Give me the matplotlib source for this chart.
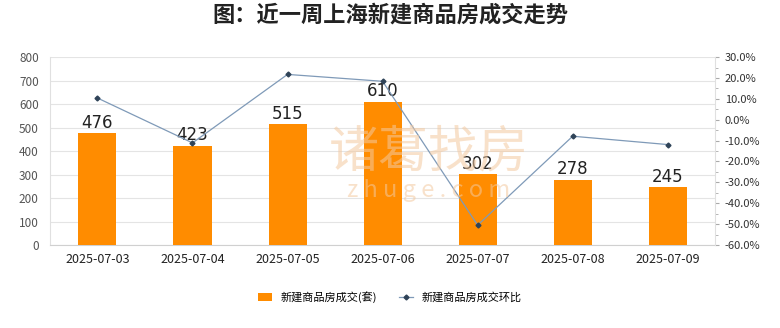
import numpy as np
import matplotlib.pyplot as plt
from matplotlib.ticker import FuncFormatter, MultipleLocator

plt.rcParams['font.family'] = ['Noto Sans CJK SC', 'DejaVu Sans']

# daily deals and day-over-day change
dates = ['2025-07-03', '2025-07-04', '2025-07-05', '2025-07-06',
         '2025-07-07', '2025-07-08', '2025-07-09']
deals = [476, 423, 515, 610, 302, 278, 245]
change_pct = [10.4, -11.1, 21.7, 18.4, -50.5, -7.9, -11.9]

fig = plt.figure(figsize=(7.8, 3.28), dpi=100)
ax = fig.add_axes([0.064, 0.253, 0.853, 0.573])
ax2 = ax.twinx()

x = np.arange(len(dates))

# faint watermark behind the bars
fig.text(0.55, 0.535, '诸葛找房', fontsize=36, color='#f3c9a0', alpha=0.55,
         ha='center', va='center', zorder=0)
fig.text(0.55, 0.42, 'z h u g e . c o m', fontsize=17, color='#f3c9a0', alpha=0.55,
         ha='center', va='center', zorder=0)
ax.patch.set_alpha(0)

bars = ax.bar(x, deals, width=0.4, color='#ff8c00', zorder=3)
for xi, v in zip(x, deals):
    ax.text(xi, v + 6, str(v), ha='center', va='bottom', fontsize=12, color='#222222',
            family='DejaVu Sans', zorder=4)

ax.set_xlim(-0.5, len(dates) - 0.5)
ax.set_ylim(0, 800)
ax.yaxis.set_major_locator(MultipleLocator(100))
ax.grid(axis='y', color='#e4e4e4', linewidth=0.8, zorder=0)
ax.set_axisbelow(True)
ax.set_xticks(x)
ax.set_xticklabels(dates, fontsize=9, color='#222222')
ax.tick_params(axis='y', labelsize=8.5, labelcolor='#555555', length=0, pad=8)
ax.tick_params(axis='x', length=0, pad=6)
ax.spines['top'].set_visible(False)
ax.spines['left'].set_color('#e0e0e0')
ax.spines['bottom'].set_color('#d0d0d0')
ax.spines['right'].set_visible(False)

line, = ax2.plot(x, change_pct, color='#7f9ab8', linewidth=0.9, marker='D', markersize=2.5,
                 markerfacecolor='#2f4358', markeredgecolor='#2f4358', zorder=5)
ax2.set_ylim(-60, 30)
ax2.yaxis.set_major_locator(MultipleLocator(10))
ax2.yaxis.set_minor_locator(MultipleLocator(5))
ax2.yaxis.set_major_formatter(FuncFormatter(lambda v, p: f'{v:.1f}%'))
ax2.tick_params(axis='y', which='major', labelsize=8, labelcolor='#333333',
                length=3, color='#aaaaaa', pad=4)
ax2.tick_params(axis='y', which='minor', length=2, color='#aaaaaa')
ax2.spines['top'].set_visible(False)
ax2.spines['left'].set_visible(False)
ax2.spines['bottom'].set_visible(False)
ax2.spines['right'].set_color('#e0e0e0')

fig.suptitle('图：近一周上海新建商品房成交走势', fontsize=16, fontweight='bold',
             y=0.99, color='#222222')

fig.legend([bars, line], ['新建商品房成交(套)', '新建商品房成交环比'],
           loc='center', bbox_to_anchor=(0.5, 0.095), ncol=2, frameon=False,
           fontsize=8, handlelength=1.2, columnspacing=2.0)

fig.savefig('out.png', dpi=100)
